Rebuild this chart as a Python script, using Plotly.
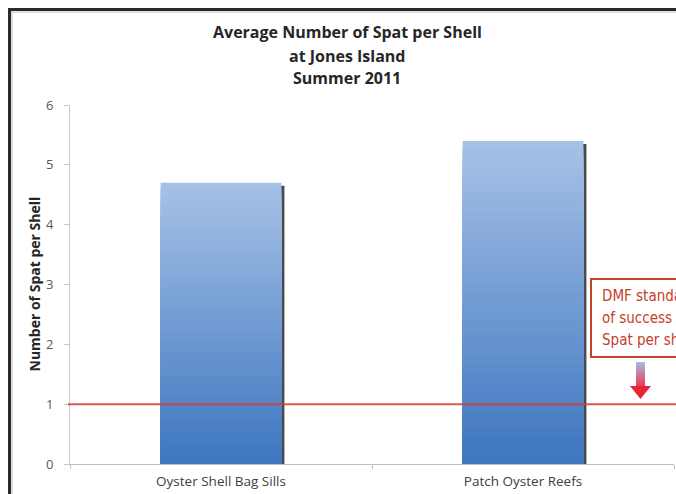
import plotly.graph_objects as go

categories = ["Oyster Shell Bag Sills", "Patch Oyster Reefs"]
values = [4.7, 5.4]
standard = 1
title_lines = ["Average Number of Spat per Shell", "at Jones Island", "Summer 2011"]
y_title = "Number of Spat per Shell"
note_lines = ["DMF standard", "of success = 1", "Spat per shell"]

W, H = 676, 494
ML, MR, MT, MB = 70, 2, 105, 30
PW = W - ML - MR
PH = H - MT - MB


def px_x(px):
    return (px - ML) / PW


def px_y(py):
    return (H - MB - py) / PH


def lerp(c1, c2, t):
    return "rgb(%d,%d,%d)" % tuple(round(a + (b - a) * t) for a, b in zip(c1, c2))


top_c = (166, 193, 230)
bot_c = (62, 118, 192)

fig = go.Figure()

# shadow
fig.add_trace(go.Bar(x=categories, y=[v - 0.05 for v in values], width=0.4, offset=-0.19,
                     marker=dict(color="#4a4a4a", line=dict(width=0)), hoverinfo="skip",
                     showlegend=False))

N = 45
for k in range(N):
    frac = (N - k) / N
    fig.add_trace(go.Bar(x=categories, y=[v * frac for v in values], width=0.4,
                         marker=dict(color=lerp(top_c, bot_c, k / (N - 1)), line=dict(width=0)),
                         hoverinfo="skip", showlegend=False))

shapes = []
# standard line
shapes.append(dict(type="line", xref="paper", yref="y", x0=px_x(68), x1=1.01,
                   y0=standard, y1=standard, line=dict(color="rgba(214,60,48,0.85)", width=2),
                   layer="above"))
# frame
shapes.append(dict(type="line", xref="paper", yref="paper", x0=px_x(9.5), x1=px_x(9.5),
                   y0=px_y(8), y1=px_y(500), line=dict(color="#2b2b2b", width=3)))
shapes.append(dict(type="line", xref="paper", yref="paper", x0=px_x(8), x1=px_x(690),
                   y0=px_y(9.5), y1=px_y(9.5), line=dict(color="#2b2b2b", width=3)))
shapes.append(dict(type="line", xref="paper", yref="paper", x0=px_x(12), x1=px_x(12),
                   y0=px_y(11), y1=px_y(500), line=dict(color="#bdbdbd", width=1)))
shapes.append(dict(type="line", xref="paper", yref="paper", x0=px_x(11), x1=px_x(690),
                   y0=px_y(12), y1=px_y(12), line=dict(color="#bdbdbd", width=1)))
# note box
shapes.append(dict(type="rect", xref="paper", yref="paper", x0=px_x(591), x1=px_x(700),
                   y0=px_y(357), y1=px_y(279), line=dict(color="#c0432e", width=2),
                   fillcolor="white"))
# arrow shaft with gradient (each piece extends to the bottom so pieces overlap)
arrow_top = (160, 186, 226)
arrow_bot = (236, 60, 80)
steps = 12
shaft_top, shaft_bot = 362, 387
for i in range(steps):
    y0 = shaft_top + i * (shaft_bot - shaft_top) / steps
    shapes.append(dict(type="rect", xref="paper", yref="paper",
                       x0=px_x(636), x1=px_x(645), y0=px_y(shaft_bot), y1=px_y(y0),
                       line=dict(width=0), fillcolor=lerp(arrow_top, arrow_bot, i / (steps - 1))))
shapes.append(dict(type="path", xref="paper", yref="paper",
                   path="M %f,%f L %f,%f L %f,%f Z" % (px_x(630), px_y(386), px_x(651), px_y(386),
                                                       px_x(640.5), px_y(399)),
                   line=dict(width=0), fillcolor="rgb(232,36,58)"))

annotations = []
title_px = [32, 56, 78]
for t, py in zip(title_lines, title_px):
    annotations.append(dict(text="<b>%s</b>" % t, xref="paper", yref="paper", x=px_x(347),
                            y=px_y(py), xanchor="center", yanchor="middle", showarrow=False,
                            font=dict(family="Open Sans", size=16, color="#262626")))
annotations.append(dict(text="<b>%s</b>" % y_title, xref="paper", yref="paper", x=px_x(34),
                        y=0.5, textangle=-90, xanchor="center", yanchor="middle",
                        showarrow=False, font=dict(family="Open Sans", size=14, color="#262626")))
note_px = [296, 318, 340]
for t, py in zip(note_lines, note_px):
    annotations.append(dict(text=t, xref="paper", yref="paper", x=px_x(600), y=px_y(py),
                            xanchor="left", yanchor="middle", showarrow=False,
                            font=dict(family="Liberation Sans Narrow, DejaVu Sans Condensed, Roboto, sans-serif",
                                      size=15, color="#c4402a")))

fig.update_layout(
    width=W, height=H, barmode="overlay", bargap=0.6,
    margin=dict(l=ML, r=MR, t=MT, b=MB),
    paper_bgcolor="white", plot_bgcolor="white",
    shapes=shapes, annotations=annotations, showlegend=False,
    xaxis=dict(type="category", range=[-0.5, 1.5], showgrid=False, showline=True,
               linecolor="#bfbfbf", linewidth=1, ticks="outside", tickson="boundaries",
               ticklen=4, tickcolor="#bfbfbf", ticklabelstandoff=5,
               tickfont=dict(family="Open Sans", size=13.5, color="#404040")),
    yaxis=dict(range=[0, 6], dtick=1, showgrid=False, showline=True, linecolor="#c8c8c8",
               linewidth=1, ticks="outside", ticklen=5, tickcolor="#c8c8c8", zeroline=False,
               ticklabelstandoff=8,
               tickfont=dict(family="Open Sans", size=13, color="#595959")),
)

fig.write_html("out.html")
